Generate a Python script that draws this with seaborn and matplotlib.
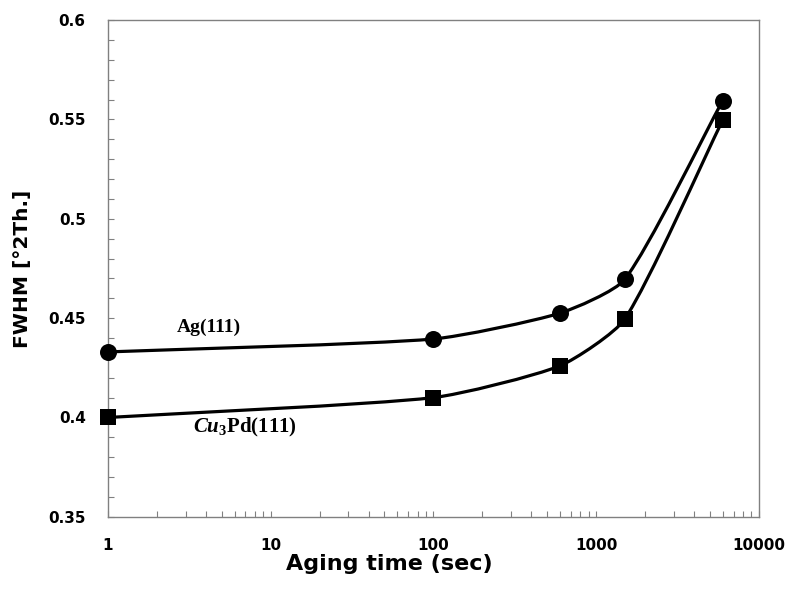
import numpy as np
import matplotlib
matplotlib.use("Agg")
import matplotlib.pyplot as plt
import seaborn as sns
from matplotlib.path import Path
from matplotlib.patches import PathPatch
from matplotlib.ticker import MultipleLocator, LogLocator, NullFormatter, FixedLocator

# data
aging_time = [1, 100, 600, 1500, 6000]
fwhm_ag = [0.433, 0.4395, 0.4525, 0.4695, 0.5595]
fwhm_cu3pd = [0.400, 0.410, 0.426, 0.4495, 0.5497]
y_ticks = [0.35, 0.4, 0.45, 0.5, 0.55, 0.6]
y_labels = ["0.35", "0.4", "0.45", "0.5", "0.55", "0.6"]
x_ticks = [1, 10, 100, 1000, 10000]

sns.set_style("white")
plt.rcParams["font.family"] = ["DejaVu Sans"]
plt.rcParams["text.color"] = "black"
plt.rcParams["axes.labelcolor"] = "black"
plt.rcParams["xtick.labelcolor"] = "black"
plt.rcParams["ytick.labelcolor"] = "black"
plt.rcParams["mathtext.fontset"] = "custom"
plt.rcParams["mathtext.rm"] = "Liberation Serif:bold"
plt.rcParams["mathtext.it"] = "Liberation Serif:italic:bold"

fig = plt.figure(figsize=(7.88, 5.9), dpi=100)
ax = fig.add_axes([0.137, 0.124, 0.826, 0.842])
ax.set_xscale("log")
ax.set_xlim(1, 10000)
ax.set_ylim(0.35, 0.6)

# aspect factor so smoothing works in screen-like units
asp = (0.842 * 5.9) / (0.826 * 7.88)


def smooth_path(xs, ys, k=0.2):
    # smoothed line like Excel: Bezier through the points, tangent from
    # neighbours, handle length scaled by the segment length
    p = np.column_stack([np.log10(xs) / 4.0, (np.array(ys) - 0.35) / 0.25 * asp])
    n = len(p)
    tang = []
    for i in range(n):
        d = p[min(i + 1, n - 1)] - p[max(i - 1, 0)]
        tang.append(d / np.linalg.norm(d))
    verts = [p[0]]
    codes = [Path.MOVETO]
    for i in range(n - 1):
        L = np.linalg.norm(p[i + 1] - p[i])
        c1 = p[i] + tang[i] * L * k
        c2 = p[i + 1] - tang[i + 1] * L * k
        verts += [c1, c2, p[i + 1]]
        codes += [Path.CURVE4] * 3
    v = np.array(verts)
    xd = 10 ** (v[:, 0] * 4.0)
    yd = v[:, 1] / asp * 0.25 + 0.35
    return Path(np.column_stack([xd, yd]), codes)


for ys in (fwhm_ag, fwhm_cu3pd):
    ax.add_patch(PathPatch(smooth_path(aging_time, ys), facecolor="none",
                           edgecolor="black", lw=2.3, zorder=2))

sns.scatterplot(x=aging_time, y=fwhm_ag, marker="o", s=150, color="black",
                edgecolor="black", linewidth=0, ax=ax, zorder=3, clip_on=False)
sns.scatterplot(x=aging_time, y=fwhm_cu3pd, marker="s", s=140, color="black",
                edgecolor="black", linewidth=0, ax=ax, zorder=3, clip_on=False)

ax.text(2.65, 0.4456, "Ag(111)", family="Liberation Serif", fontweight="bold",
        fontsize=14, ha="left", va="center")
ax.text(6.95, 0.3950, r"$\mathit{Cu}_{3}\mathrm{Pd(111)}$", fontsize=15,
        ha="center", va="center")

ax.xaxis.set_major_locator(FixedLocator(x_ticks))
ax.xaxis.set_minor_locator(LogLocator(base=10, subs=np.arange(2, 10)))
ax.xaxis.set_minor_formatter(NullFormatter())
ax.set_xticklabels([str(t) for t in x_ticks])
ax.yaxis.set_major_locator(FixedLocator(y_ticks))
ax.set_yticklabels(y_labels)
ax.yaxis.set_minor_locator(MultipleLocator(0.01))

ax.tick_params(which="both", direction="in", length=4, width=0.8,
               color="#808080", top=False, right=False, bottom=True, left=True)
ax.tick_params(axis="x", which="major", labelsize=11, pad=15)
ax.tick_params(axis="y", which="major", labelsize=11, pad=16)
for lab in ax.get_xticklabels() + ax.get_yticklabels():
    lab.set_fontweight("bold")
for sp in ax.spines.values():
    sp.set_color("#808080")
    sp.set_linewidth(1.0)
    sp.set_visible(True)

ax.set_xlabel("Aging time (sec)", fontsize=16, fontweight="bold", labelpad=6)
ax.xaxis.set_label_coords(0.433, -0.075)
ax.set_ylabel("FWHM [°2Th.]", fontsize=14.5, fontweight="bold", labelpad=12)

fig.savefig("out.png", dpi=100)
